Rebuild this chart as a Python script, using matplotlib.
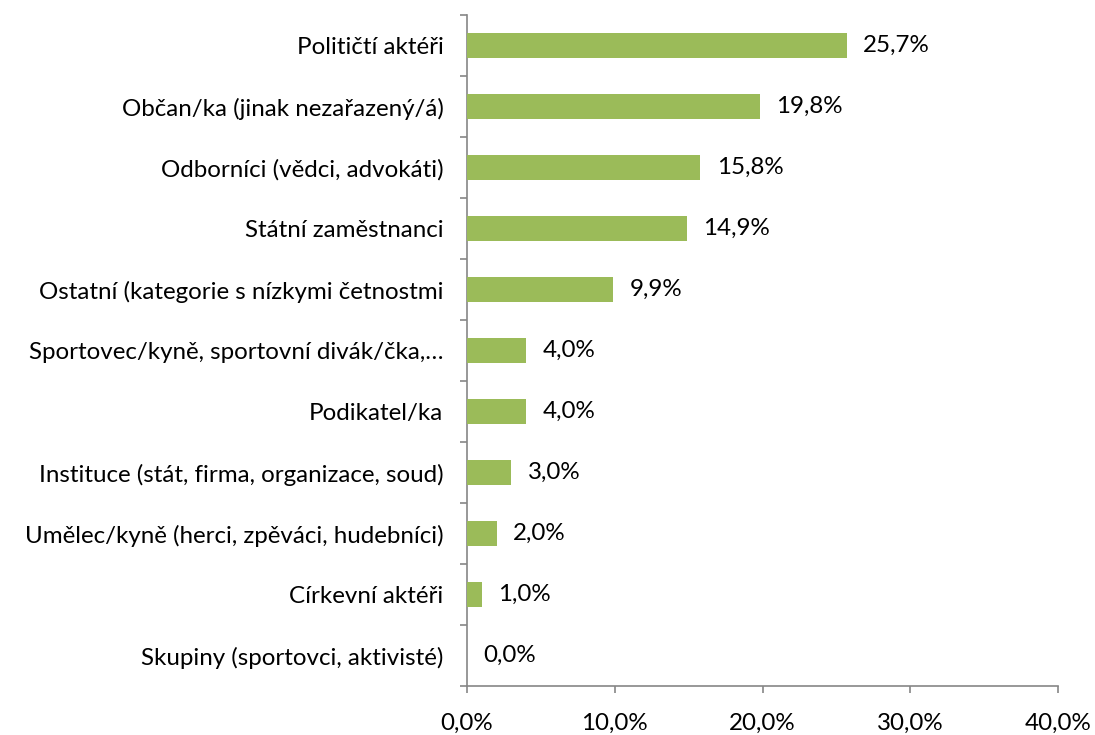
import matplotlib
matplotlib.use("Agg")
import matplotlib.pyplot as plt
from matplotlib.ticker import FixedLocator, FuncFormatter

# data, top to bottom
categories = [
    "Političtí aktéři",
    "Občan/ka (jinak nezařazený/á)",
    "Odborníci (vědci, advokáti)",
    "Státní zaměstnanci",
    "Ostatní (kategorie s nízkymi četnostmi",
    "Sportovec/kyně, sportovní divák/čka,…",
    "Podikatel/ka",
    "Instituce (stát, firma, organizace, soud)",
    "Umělec/kyně (herci, zpěváci, hudebníci)",
    "Církevní aktéři",
    "Skupiny (sportovci, aktivisté)",
]
values = [25.7, 19.8, 15.8, 14.9, 9.9, 4.0, 4.0, 3.0, 2.0, 1.0, 0.0]
x_ticks = [0, 10, 20, 30, 40]

C_BAR = "#9BBB59"
C_AX = "#868686"
FONT = "Lato"
FS = 17.4

plt.rcParams["font.family"] = [FONT, "DejaVu Sans"]

fig = plt.figure(figsize=(10.95, 7.35), dpi=100)
ax = fig.add_axes([467 / 1095, 1 - 686 / 735, (1058 - 467) / 1095, (686 - 15) / 735])

ypos = list(range(len(categories)))
ax.barh(ypos, values, height=0.4, color=C_BAR, zorder=3)

ax.set_xlim(0, 40)
ax.set_ylim(len(categories) - 0.5, -0.5)

ax.set_xticks(x_ticks)
ax.xaxis.set_major_formatter(FuncFormatter(lambda v, p: ("%.1f%%" % v).replace(".", ",")))
ax.tick_params(axis="x", direction="out", length=5, width=1.2, color=C_AX,
               labelsize=FS, pad=14)

ax.set_yticks(ypos)
ax.set_yticklabels(categories)
ax.yaxis.set_minor_locator(FixedLocator([i - 0.5 for i in range(len(categories) + 1)]))
ax.tick_params(axis="y", which="major", length=0, labelsize=FS, pad=17)
ax.tick_params(axis="y", which="minor", direction="out", length=5, width=1.2, color=C_AX)

for side in ["top", "right"]:
    ax.spines[side].set_visible(False)
for side in ["left", "bottom"]:
    ax.spines[side].set_color(C_AX)
    ax.spines[side].set_linewidth(1.2)

for y, v in zip(ypos, values):
    ax.text(v + 1.1, y, ("%.1f%%" % v).replace(".", ","), va="center", ha="left",
            fontsize=FS, color="black")

fig.savefig("out.png", dpi=100)
